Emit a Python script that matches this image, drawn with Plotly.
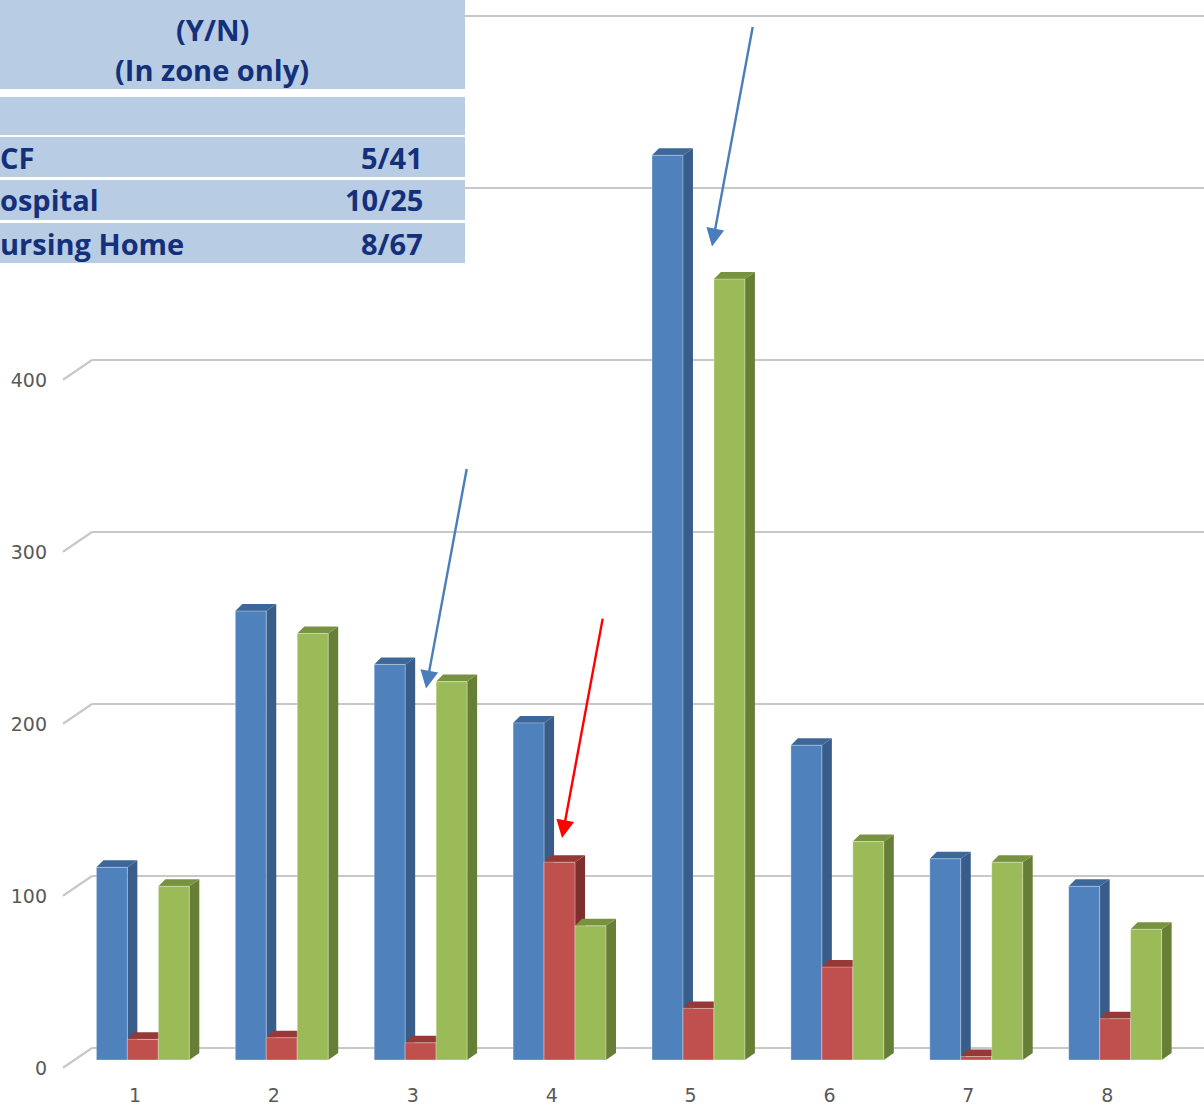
import plotly.graph_objects as go

# ---- data -----------------------------------------------------------------
categories = [1, 2, 3, 4, 5, 6, 7, 8]
series_blue = [112, 261, 230, 196, 526, 183, 117, 101]
series_red = [12, 13, 10, 115, 30, 54, 2, 24]
series_green = [101, 248, 220, 78, 454, 127, 115, 76]
y_ticks = [0, 100, 200, 300, 400, 500, 600]
y_tick_text = ["0", "100", "200", "300", "400", "", ""]

table_head = ["(Y/N)", "(In zone only)"]
table_rows = ["CF", "ospital", "ursing Home"]
table_vals = ["5/41", "10/25", "8/67"]

# ---- geometry ---------------------------------------------------------------
W, H = 1204, 1117
M_L, M_B = 92, 57
PLOT_W, PLOT_H = W - M_L, H - M_B
X_RANGE = [0.6904, 0.6904 + PLOT_W / 138.9]
PX_PER_UNIT = 1.72
Y_RANGE = [0, PLOT_H / PX_PER_UNIT]
WALL_SHIFT = 12  # back wall sits this many px above the bar fronts
Y2_RANGE = [-WALL_SHIFT / PX_PER_UNIT, (PLOT_H - WALL_SHIFT) / PX_PER_UNIT]

BAR_W = 0.223
OFFSETS = [-0.278, -0.055, 0.168]
DX_R = 10 / 138.9   # depth shift of right edge
DX_L = 7 / 138.9    # depth shift of left edge
DY = 7 / PX_PER_UNIT

styles = [
    dict(front="#4F81BD", top="#3E6799", side="#385D8A"),
    dict(front="#C0504D", top="#953836", side="#7E2E2C"),
    dict(front="#9BBB59", top="#779340", side="#677E36"),
]
all_series = [series_blue, series_red, series_green]


def px_to_paper_x(px):
    return (px - M_L) / PLOT_W


def px_to_paper_y(py):
    return (PLOT_H - py) / PLOT_H


fig = go.Figure()

# front faces
for vals, off, st in zip(all_series, OFFSETS, styles):
    fig.add_trace(go.Bar(
        x=categories, y=vals, width=BAR_W, offset=off,
        marker=dict(color=st["front"], line=dict(color="rgba(255,255,255,0.35)", width=1)),
        showlegend=False, hoverinfo="y",
    ))

# an invisible trace so the back-wall axis exists
fig.add_trace(go.Scatter(x=[X_RANGE[0]], y=[0], yaxis="y2", mode="markers",
                         marker=dict(opacity=0), showlegend=False, hoverinfo="skip"))

shapes = []
# side and top faces of every column
for i, cat in enumerate(categories):
    for vals, off, st in zip(all_series, OFFSETS, styles):
        v = vals[i]
        xl = cat + off
        xr = xl + BAR_W
        side = (f"M{xr},0 L{xr + DX_R},{DY} L{xr + DX_R},{v + DY} L{xr},{v} Z")
        top = (f"M{xl},{v} L{xr},{v} L{xr + DX_R},{v + DY} L{xl + DX_L},{v + DY} Z")
        shapes.append(dict(type="path", path=side, xref="x", yref="y", layer="between",
                           fillcolor=st["side"], line=dict(width=0)))
        shapes.append(dict(type="path", path=top, xref="x", yref="y", layer="between",
                           fillcolor=st["top"], line=dict(width=0)))

# short diagonal floor edges leading to each wall gridline
for t in y_ticks:
    y_back = (t - Y2_RANGE[0]) / (Y2_RANGE[1] - Y2_RANGE[0])
    y_front = (t - 11.5 - Y2_RANGE[0]) / (Y2_RANGE[1] - Y2_RANGE[0])
    shapes.append(dict(type="line", xref="paper", yref="paper",
                       x0=px_to_paper_x(63), y0=y_front, x1=0, y1=y_back,
                       line=dict(color="#C8C8C8", width=2.2), layer="below"))

# table overlay
TABLE_FILL = "#B8CCE4"
table_cells = [(0, 89), (97, 135), (137, 177), (180, 220), (223, 263)]
for y0, y1 in table_cells:
    shapes.append(dict(type="rect", xref="paper", yref="paper",
                       x0=px_to_paper_x(-5), x1=px_to_paper_x(465),
                       y0=px_to_paper_y(y1), y1=px_to_paper_y(y0),
                       fillcolor=TABLE_FILL, line=dict(width=0), layer="above"))

TXT = "#14307A"
tfont = dict(family="Open Sans, Noto Sans, sans-serif", size=29, color=TXT, weight=700)
annotations = []
for txt, py in zip(table_head, [29, 70]):
    annotations.append(dict(text=txt, xref="paper", yref="paper",
                            x=px_to_paper_x(212), y=px_to_paper_y(py),
                            xanchor="center", yanchor="middle", showarrow=False, font=tfont))
for name, val, py in zip(table_rows, table_vals, [157, 200, 243]):
    annotations.append(dict(text=name, xref="paper", yref="paper",
                            x=px_to_paper_x(-2), y=px_to_paper_y(py),
                            xanchor="left", yanchor="middle", showarrow=False, font=tfont))
    annotations.append(dict(text=val, xref="paper", yref="paper",
                            x=px_to_paper_x(425), y=px_to_paper_y(py),
                            xanchor="right", yanchor="middle", showarrow=False, font=tfont))

# pointer arrows
arrows = [
    dict(x=3.095, y=216, color="#4A7EBB"),
    dict(x=5.154, y=473, color="#4A7EBB"),
    dict(x=4.074, y=129, color="#FF0000"),
]
for a in arrows:
    annotations.append(dict(x=a["x"], y=a["y"], xref="x", yref="y", text="",
                            showarrow=True, ax=41, ay=-221, axref="pixel", ayref="pixel",
                            arrowhead=2, arrowsize=1.5, arrowwidth=2.4,
                            arrowcolor=a["color"], standoff=0))

axis_font = dict(family="DejaVu Sans, sans-serif", size=19, color="#595959")

fig.update_layout(
    width=W, height=H,
    margin=dict(l=M_L, r=0, t=0, b=M_B),
    paper_bgcolor="white", plot_bgcolor="white",
    barmode="overlay",
    xaxis=dict(range=X_RANGE, tickvals=categories, ticktext=[str(c) for c in categories],
               showgrid=False, zeroline=False, showline=False, ticks="",
               tickfont=axis_font, ticklabelstandoff=22),
    yaxis=dict(range=Y_RANGE, showgrid=False, zeroline=False, showline=False,
               showticklabels=False, ticks=""),
    yaxis2=dict(range=Y2_RANGE, overlaying="y", side="left", tickvals=y_ticks,
                ticktext=y_tick_text,
                showgrid=True, gridcolor="#C8C8C8", gridwidth=2.2,
                zeroline=False, showline=False, ticks="",
                tickfont=axis_font, ticklabelstandoff=44, ticklabelshift=20),
    shapes=shapes,
    annotations=annotations,
)

fig.write_html("out.html")
